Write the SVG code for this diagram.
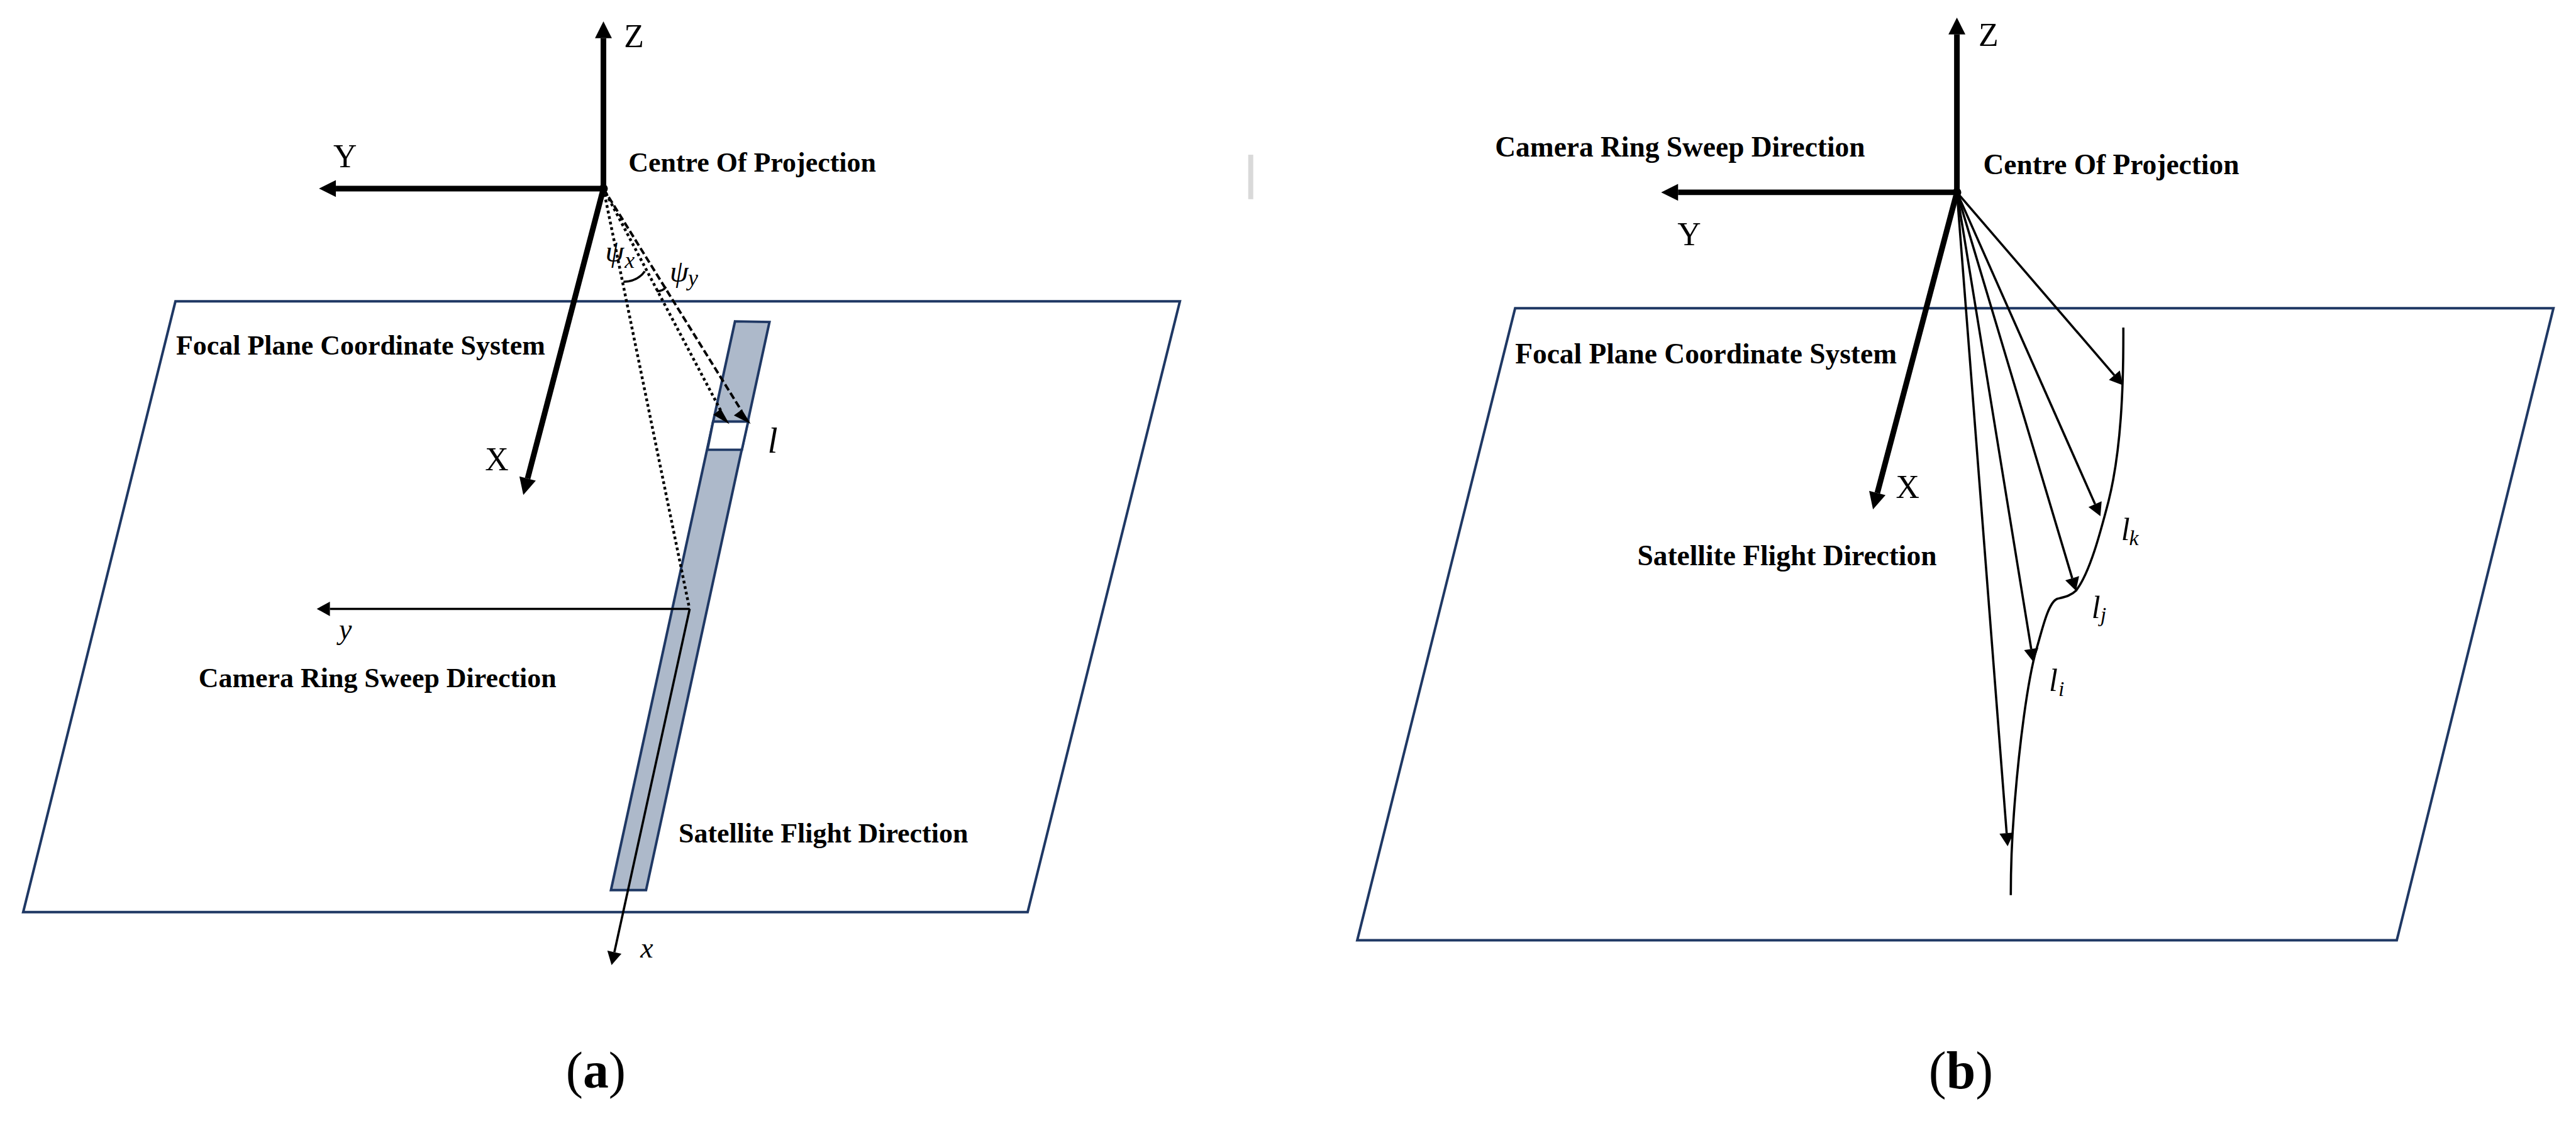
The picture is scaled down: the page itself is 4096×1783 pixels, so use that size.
<svg xmlns="http://www.w3.org/2000/svg" width="4096" height="1783" viewBox="0 0 4096 1783">
<style>
text{font-family:"Liberation Serif",serif;fill:#000}
.ba{font-weight:700;font-size:44.1px}
.bb{font-weight:700;font-size:45.6px}
.ax{font-size:52px}
.it{font-style:italic}
.plane{fill:#fff;stroke:#1f3864;stroke-width:4}
.strip{fill:#adb9ca;stroke:#1f3864;stroke-width:4}
.thick{stroke:#000;stroke-width:9;fill:none;marker-end:url(#hThick)}
.thin{stroke:#000;stroke-width:3.6;fill:none;marker-end:url(#hThin)}
.dot{stroke:#000;stroke-width:4.5;fill:none;stroke-dasharray:4.5 4.5}
.dash{stroke:#000;stroke-width:4;fill:none;stroke-dasharray:11 5}
.arc{stroke:#000;stroke-width:3.5;fill:none}
</style>
<defs>
<marker id="hThick" markerUnits="userSpaceOnUse" markerWidth="28" markerHeight="28" refX="0" refY="14" orient="auto" overflow="visible"><path d="M0,0.5L27,14L0,27.5Z" fill="#000"/></marker>
<marker id="hThin" markerUnits="userSpaceOnUse" markerWidth="22" markerHeight="24" refX="0" refY="12" orient="auto" overflow="visible"><path d="M0,0.5L21,12L0,23.5Z" fill="#000"/></marker>
</defs>
<rect width="4096" height="1783" fill="#fff"/>
<g transform="scale(0.99635)">
<g id="plane-a"><polygon class="plane" points="280,481 1883,481 1640,1456 37,1456"/></g>
<g id="plane-b"><polygon class="plane" points="2418,492 4075,492 3825,1501 2166,1501"/></g>
<g id="strip-a">
<polygon class="strip" points="1173,513 1228,514 1031,1421 975,1421"/>
<polygon points="1138,673 1194,673 1184,718 1129,718" fill="#fff" stroke="#1f3864" stroke-width="4"/>
</g>
<rect id="mark" x="1992" y="247" width="8" height="71" fill="#d9d9d9"/>
<g id="connectors">
<line class="dot" x1="963" y1="301" x2="1100" y2="970"/>
<line class="dot" x1="963" y1="301" x2="1150" y2="655"/>
<line class="dash" x1="963" y1="301" x2="1183.5" y2="656"/>
<path d="M1150,655L1160,673L1141,662ZM1183.5,656L1194,673L1174,663Z" fill="#000" stroke="#000" stroke-width="3"/>
<path class="arc" d="M995,450Q1018,449 1029,433"/>
<path class="arc" d="M1048,465Q1058,465 1063,458"/>
<line class="thin" x1="1100.7" y1="972" x2="526.5" y2="972"/>
<line class="thin" x1="1100.7" y1="972" x2="980.5" y2="1520"/>
<line class="thick" x1="963" y1="305" x2="963" y2="61"/>
<line class="thick" x1="967" y1="301" x2="536" y2="301"/>
<line class="thick" x1="963" y1="301" x2="842" y2="764"/>
<circle cx="963" cy="301" r="7" fill="#000"/>
<path d="M3388.6,523C3389,620 3385,720 3365,800C3352,850 3335,915 3313,943C3305,951 3295,953 3283,956C3268,962 3258,1010 3250,1036C3236,1085 3222,1190 3214,1298C3210,1350 3209,1390 3209,1429" stroke="#000" stroke-width="3.6" fill="none"/>
<line class="thin" x1="3123" y1="307" x2="3374.3" y2="599"/>
<line class="thin" x1="3123" y1="307" x2="3343.5" y2="804.8"/>
<line class="thin" x1="3123" y1="307" x2="3307" y2="923"/>
<line class="thin" x1="3123" y1="307" x2="3241.6" y2="1036"/>
<line class="thin" x1="3123" y1="307" x2="3202.4" y2="1330"/>
<line class="thick" x1="3123" y1="311" x2="3123" y2="55"/>
<line class="thick" x1="3127" y1="307" x2="2678" y2="307"/>
<line class="thick" x1="3123" y1="307" x2="2996" y2="787"/>
<circle cx="3123" cy="307" r="7" fill="#000"/>
</g>
<g id="labels-a">
<text class="ax" x="996" y="75">Z</text>
<text class="ax" x="532" y="267">Y</text>
<text class="ax" x="774" y="751">X</text>
<text class="ba" x="1003" y="274.5">Centre Of Projection</text>
<text class="ba" x="281" y="566">Focal Plane Coordinate System</text>
<text class="ba" x="317" y="1097">Camera Ring Sweep Direction</text>
<text class="ba" x="1083" y="1345">Satellite Flight Direction</text>
<text class="it" x="966" y="418" font-size="48">ψ</text>
<text class="it" x="997" y="428" font-size="36">x</text>
<text class="it" x="1069" y="450" font-size="48">ψ</text>
<text class="it" x="1098" y="456" font-size="36">y</text>
<text class="it" x="1225" y="723" font-size="58">l</text>
<text class="it" x="541" y="1020" font-size="46">y</text>
<text class="it" x="1022" y="1528.6" font-size="46">x</text>
<text x="903" y="1736" font-size="82">(<tspan font-weight="700">a</tspan>)</text>
</g>
<g id="labels-b">
<text class="ax" x="3157.5" y="73">Z</text>
<text class="ax" x="2677" y="391">Y</text>
<text class="ax" x="3025.5" y="794.6">X</text>
<text class="bb" x="3165" y="278">Centre Of Projection</text>
<text class="bb" x="2386" y="250">Camera Ring Sweep Direction</text>
<text class="bb" x="2418" y="580.5">Focal Plane Coordinate System</text>
<text class="bb" x="2613" y="902">Satellite Flight Direction</text>
<text class="it" x="3385" y="862" font-size="50">l</text>
<text class="it" x="3398" y="870.5" font-size="34">k</text>
<text class="it" x="3338" y="987" font-size="50">l</text>
<text class="it" x="3352" y="993" font-size="34">j</text>
<text class="it" x="3270" y="1103" font-size="50">l</text>
<text class="it" x="3285" y="1111" font-size="34">i</text>
<text x="3078" y="1737" font-size="84">(<tspan font-weight="700">b</tspan>)</text>
</g>
</g>
</svg>
